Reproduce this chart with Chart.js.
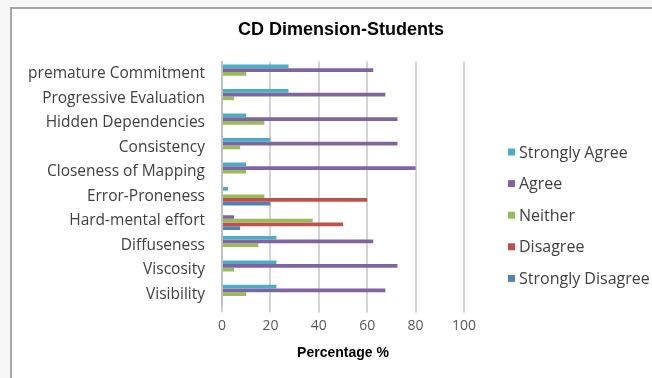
<!DOCTYPE html>
<html lang="en">
<head>
  <meta charset="UTF-8">
  <title>CD Dimension-Students</title>
  <script src="https://cdn.jsdelivr.net/npm/chart.js@4/dist/chart.umd.min.js"></script>
  <style>
    html, body { margin: 0; padding: 0; background: #f7f7f7; overflow: hidden; }
    #frame {
      position: absolute; left: 10px; top: 7px; width: 700px; height: 400px;
      background: #fff; border-left: 2px solid #a6a6a6; border-top: 2px solid #a6a6a6;
    }
    #cChart { position: absolute; left: -12px; top: -9px; }
  </style>
</head>
<body>
<div id="frame">
  <canvas id="cChart" width="682" height="378"></canvas>
</div>
<script>
const labels = [
  'premature Commitment', 'Progressive Evaluation', 'Hidden Dependencies',
  'Consistency', 'Closeness of Mapping', 'Error-Proneness',
  'Hard-mental effort', 'Diffuseness', 'Viscosity', 'Visibility'
];
const stronglyAgree    = [27.5, 27.5, 10, 20, 10, 2.5, 0, 22.5, 22.5, 22.5];
const agree            = [62.5, 67.5, 72.5, 72.5, 80, 0, 5, 62.5, 72.5, 67.5];
const neither          = [10, 5, 17.5, 7.5, 10, 17.5, 37.5, 15, 5, 10];
const disagree         = [0, 0, 0, 0, 0, 60, 50, 0, 0, 0];
const stronglyDisagree = [0, 0, 0, 0, 0, 20, 7.5, 0, 0, 0];
const xTicks = [0, 20, 40, 60, 80, 100];

const labelFont = "'Open Sans', 'Liberation Sans', sans-serif";
const boldFont = "'Liberation Sans', Arial, sans-serif";

// legend drawn beside the plot, like the Excel one
const sideLegend = {
  id: 'sideLegend',
  afterDraw(chart) {
    const ctx = chart.ctx;
    ctx.save();
    ctx.font = "16px " + labelFont;
    ctx.textBaseline = 'middle';
    chart.data.datasets.forEach(function(ds, i) {
      const y = 152 + i * 31.6;
      ctx.fillStyle = ds.backgroundColor;
      ctx.fillRect(508, y - 3.5, 7, 7);
      ctx.fillStyle = '#404040';
      ctx.fillText(ds.label, 519, y + 1);
    });
    ctx.restore();
  }
};

const data = {
  labels: labels,
  datasets: [
    { label: 'Strongly Agree', data: stronglyAgree, backgroundColor: '#4BACC6' },
    { label: 'Agree', data: agree, backgroundColor: '#8064A2' },
    { label: 'Neither', data: neither, backgroundColor: '#9BBB59' },
    { label: 'Disagree', data: disagree, backgroundColor: '#C0504D' },
    { label: 'Strongly Disagree', data: stronglyDisagree, backgroundColor: '#4F81BD' }
  ]
};

const config = {
  type: 'bar',
  data: data,
  plugins: [sideLegend],
  options: {
    indexAxis: 'y',
    responsive: false,
    animation: false,
    categoryPercentage: 0.76,
    barPercentage: 1,
    layout: { padding: { left: 0, right: 0, top: 0, bottom: 12 } },
    plugins: {
      legend: { display: false },
      tooltip: { enabled: false },
      title: {
        display: true,
        text: 'CD Dimension-Students',
        color: '#000',
        font: { family: boldFont, size: 18, weight: 'bold' },
        padding: { top: 19, bottom: 21 }
      }
    },
    scales: {
      x: {
        min: 0, max: 100,
        afterBuildTicks: function(axis) { axis.ticks = xTicks.map(v => ({ value: v })); },
        afterFit: function(scale) { scale.paddingRight = 218; },
        grid: { color: '#d4d4d4', lineWidth: 2, tickLength: 6 },
        border: { display: false },
        ticks: { color: '#595959', padding: 5, font: { family: labelFont, size: 14 } },
        title: {
          display: true, text: 'Percentage %', color: '#000',
          font: { family: boldFont, size: 14, weight: 'bold' },
          padding: { top: 6, bottom: 4 }
        }
      },
      y: {
        afterFit: function(scale) { scale.width = 222; },
        grid: { display: false, drawTicks: false },
        border: { display: true, color: '#bfbfbf', width: 2 },
        ticks: { color: '#404040', padding: 17, font: { family: labelFont, size: 15.5 } }
      }
    }
  }
};

const cChart = new Chart(document.getElementById('cChart'), config);
</script>
</body>
</html>
